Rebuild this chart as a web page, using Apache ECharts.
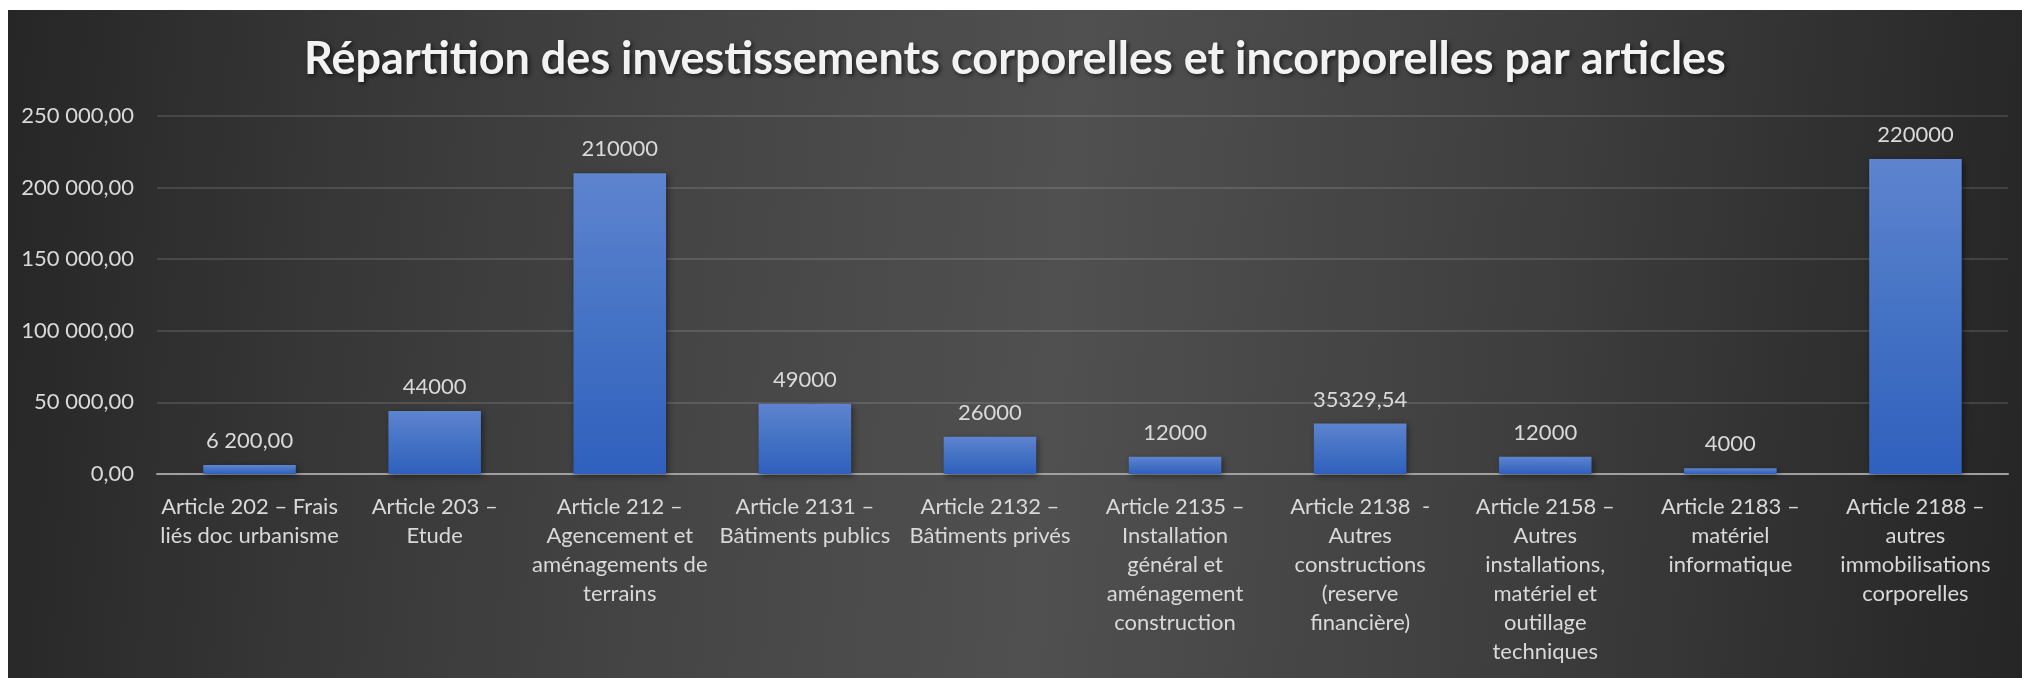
<!DOCTYPE html>
<html>
<head>
<meta charset="utf-8">
<script src="https://cdn.jsdelivr.net/npm/echarts@6/dist/echarts.min.js"></script>
<style>
  html, body { margin: 0; padding: 0; background: #ffffff; width: 2022px; height: 678px; overflow: hidden; }
  #wrap { position: absolute; left: 8px; top: 10px; width: 2014px; height: 668px;
    background: linear-gradient(95deg, #262626 0%, #383838 18%, #464646 35%, #505050 52%, #3e3e3e 75%, #252525 100%); }
  #chart { width: 2014px; height: 668px; }
</style>
</head>
<body>
<div id="wrap"><div id="chart"></div></div>
<script>
const titleText = 'Répartition des investissements corporelles et incorporelles par articles';
const categories = [
  'Article 202 – Frais\nliés doc urbanisme',
  'Article 203 –\nEtude',
  'Article 212 –\nAgencement et\naménagements de\nterrains',
  'Article 2131 –\nBâtiments publics',
  'Article 2132 –\nBâtiments privés',
  'Article 2135 –\nInstallation\ngénéral et\naménagement\nconstruction',
  'Article 2138  -\nAutres\nconstructions\n(reserve\nfinancière)',
  'Article 2158 –\nAutres\ninstallations,\nmatériel et\noutillage\ntechniques',
  'Article 2183 –\nmatériel\ninformatique',
  'Article 2188 –\nautres\nimmobilisations\ncorporelles'
];
const values = [6200, 44000, 210000, 49000, 26000, 12000, 35329.54, 12000, 4000, 220000];
const valueLabels = ['6 200,00', '44000', '210000', '49000', '26000', '12000', '35329,54', '12000', '4000', '220000'];
const yTicks = { min: 0, max: 250000, interval: 50000 };

function fmtAxis(v) {
  const s = Math.round(v).toString().replace(/\B(?=(\d{3})+(?!\d))/g, ' ');
  return s + ',00';
}

const FONT = 'Lato, "Open Sans", sans-serif';
const chart = echarts.init(document.getElementById('chart'), null, { renderer: 'canvas' });
chart.setOption({
  backgroundColor: 'transparent',
  animation: false,
  title: {
    text: titleText,
    left: 'center',
    top: 22,
    textStyle: {
      color: '#f2f2f2', fontFamily: FONT, fontWeight: 'bold', fontSize: 45,
      textShadowColor: 'rgba(0,0,0,0.6)', textShadowBlur: 4, textShadowOffsetX: 2, textShadowOffsetY: 2
    }
  },
  grid: { left: 149, right: 14, top: 106, bottom: 204, containLabel: false },
  xAxis: {
    type: 'category',
    data: categories,
    axisLine: { show: true, lineStyle: { color: '#a0a0a0', width: 2 } },
    axisTick: { show: false },
    axisLabel: {
      interval: 0, color: '#d9d9d9', fontFamily: FONT, fontSize: 22, lineHeight: 29, margin: 18, align: 'center'
    }
  },
  yAxis: {
    type: 'value',
    min: yTicks.min, max: yTicks.max, interval: yTicks.interval,
    axisLine: { show: false },
    axisTick: { show: false },
    splitLine: { lineStyle: { color: 'rgba(255,255,255,0.12)', width: 2 } },
    axisLabel: { color: '#d9d9d9', fontFamily: FONT, fontSize: 22, margin: 23, formatter: fmtAxis }
  },
  series: [{
    type: 'bar',
    data: values,
    barCategoryGap: '50%',
    itemStyle: {
      color: new echarts.graphic.LinearGradient(0, 0, 0, 1, [
        { offset: 0, color: '#5e84cf' },
        { offset: 0.5, color: '#4472c4' },
        { offset: 1, color: '#2f60bd' }
      ]),
      shadowColor: 'rgba(0,0,0,0.45)', shadowBlur: 6, shadowOffsetX: 2, shadowOffsetY: 2
    },
    label: {
      show: true, position: 'top', distance: 13,
      color: '#d9d9d9', fontFamily: FONT, fontSize: 22,
      formatter: p => valueLabels[p.dataIndex]
    }
  }]
});
</script>
</body>
</html>
